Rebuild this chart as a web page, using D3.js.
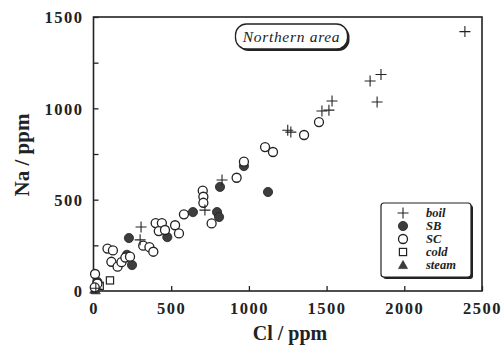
<!DOCTYPE html>
<html>
<head>
<meta charset="utf-8">
<script src="https://cdn.jsdelivr.net/npm/d3@7"></script>
<style>
  html, body { margin: 0; padding: 0; background: #fff; }
  svg { display: block; }
  .tick text { font-family: "Liberation Serif", "DejaVu Serif", serif; font-weight: bold; font-size: 16.5px; letter-spacing: 1.5px; fill: #222; }
</style>
</head>
<body>
<svg id="chart" width="504" height="352"></svg>
<script>
// Cl vs Na concentrations (ppm), grouped by water type
const boilCl = [2390, 1850, 1780, 1825, 1535, 1470, 1515, 1250, 1270, 827, 717, 306, 300, 15];
const boilNa = [1420, 1185, 1150, 1035, 1040, 985, 990, 880, 870, 608, 443, 350, 280, 15];

const sbCl = [228, 475, 248, 640, 795, 808, 814, 1123, 968, 215, 25];
const sbNa = [290, 295, 142, 432, 432, 405, 570, 542, 684, 198, 50];

const scCl = [90, 125, 115, 155, 180, 205, 235, 320, 360, 385, 400, 440, 420, 460,
              525, 550, 582, 703, 707, 707, 760, 921, 968, 1104, 1155, 1355, 1451, 10, 25, 8];
const scNa = [232, 222, 160, 133, 158, 183, 188, 248, 240, 215, 372, 372, 328, 334,
              360, 315, 420, 549, 516, 483, 370, 620, 708, 788, 761, 854, 925, 93, 40, 20];

const coldCl = [106, 40];
const coldNa = [58, 28];

const steamCl = [5, 15];
const steamNa = [8, 4];

const xTicks = [0, 500, 1000, 1500, 2000, 2500];
const yTicks = [0, 250, 500, 750, 1000, 1250, 1500];
const yLabelled = [0, 500, 1000, 1500];

const legendItems = [
  { key: "boil", label: "boil" },
  { key: "sb", label: "SB" },
  { key: "sc", label: "SC" },
  { key: "cold", label: "cold" },
  { key: "steam", label: "steam" }
];

const ink = "#222";
const fillDark = "#3d3d3d";
const serif = '"Liberation Serif", "DejaVu Serif", serif';

const svg = d3.select("#chart");

const x = d3.scaleLinear().domain([0, 2500]).range([93.5, 482]);
const y = d3.scaleLinear().domain([0, 1500]).range([291, 17]);

// axes with inward ticks
const xAxis = d3.axisBottom(x).tickValues(xTicks).tickSize(-5).tickPadding(11).tickFormat(d3.format("d"));
const yAxis = d3.axisLeft(y).tickValues(yTicks).tickSize(-5).tickPadding(10)
  .tickFormat(d => yLabelled.includes(d) ? d3.format("d")(d) : "");

const gx = svg.append("g").attr("transform", `translate(0,${y(0)})`).call(xAxis);
const gy = svg.append("g").attr("transform", `translate(${x(0)},0)`).call(yAxis);
[gx, gy].forEach(g => {
  g.select(".domain").remove();
  g.selectAll(".tick line").attr("stroke", ink).attr("stroke-width", 1.3);
});
gy.selectAll(".tick text").attr("dy", "0.35em");

// plot frame
svg.append("rect")
  .attr("x", x(0)).attr("y", y(1500))
  .attr("width", x(2500) - x(0)).attr("height", y(0) - y(1500))
  .attr("fill", "none").attr("stroke", ink).attr("stroke-width", 1.6);

// axis titles
svg.append("text")
  .attr("transform", `translate(29,155) rotate(-90)`)
  .attr("text-anchor", "middle")
  .attr("font-family", serif).attr("font-weight", "bold").attr("font-size", 21)
  .attr("fill", ink)
  .text("Na / ppm");

svg.append("text")
  .attr("x", 290).attr("y", 340)
  .attr("text-anchor", "middle")
  .attr("font-family", serif).attr("font-weight", "bold").attr("font-size", 20)
  .attr("fill", ink)
  .text("Cl / ppm");

// marker drawing helpers
function drawMarker(g, key, cx, cy) {
  if (key === "boil") {
    const s = 5.5;
    g.append("path")
      .attr("d", `M${cx - s},${cy}H${cx + s}M${cx},${cy - s}V${cy + s}`)
      .attr("stroke", ink).attr("stroke-width", 1.1).attr("fill", "none");
  } else if (key === "sb") {
    g.append("circle").attr("cx", cx).attr("cy", cy).attr("r", 4.6)
      .attr("fill", fillDark).attr("stroke", ink).attr("stroke-width", 0.8);
  } else if (key === "sc") {
    g.append("circle").attr("cx", cx).attr("cy", cy).attr("r", 4.5)
      .attr("fill", "#fff").attr("stroke", ink).attr("stroke-width", 1.3);
  } else if (key === "cold") {
    g.append("rect").attr("x", cx - 3.6).attr("y", cy - 3.6).attr("width", 7.2).attr("height", 7.2)
      .attr("fill", "#fff").attr("stroke", ink).attr("stroke-width", 1.2);
  } else if (key === "steam") {
    const s = 4.5;
    g.append("path")
      .attr("d", `M${cx},${cy - s}L${cx + s},${cy + s * 0.8}L${cx - s},${cy + s * 0.8}Z`)
      .attr("fill", fillDark).attr("stroke", ink).attr("stroke-width", 0.6);
  }
}

const pts = svg.append("g");
const series = [
  ["cold", coldCl, coldNa],
  ["steam", steamCl, steamNa],
  ["sb", sbCl, sbNa],
  ["sc", scCl, scNa],
  ["boil", boilCl, boilNa]
];
series.forEach(([key, xs, ys]) => {
  xs.forEach((v, i) => drawMarker(pts, key, x(v), y(ys[i])));
});

// title pill
const tg = svg.append("g");
tg.append("rect").attr("x", 237.5).attr("y", 26).attr("width", 112).attr("height", 25).attr("rx", 11)
  .attr("fill", ink);
tg.append("rect").attr("x", 235.5).attr("y", 24).attr("width", 112).attr("height", 25).attr("rx", 11)
  .attr("fill", "#fff").attr("stroke", ink).attr("stroke-width", 1.3);
tg.append("text").attr("x", 291.5).attr("y", 41.5).attr("text-anchor", "middle")
  .attr("font-family", serif).attr("font-style", "italic").attr("font-size", 15.5)
  .attr("letter-spacing", 0.7).attr("fill", ink)
  .text("Northern area");

// legend box
const lg = svg.append("g");
lg.append("rect").attr("x", 383).attr("y", 205).attr("width", 90).attr("height", 74).attr("rx", 3)
  .attr("fill", ink);
lg.append("rect").attr("x", 381).attr("y", 203).attr("width", 90).attr("height", 74).attr("rx", 3)
  .attr("fill", "#fff").attr("stroke", ink).attr("stroke-width", 1.2);
legendItems.forEach((it, i) => {
  const cy = 213 + i * 13;
  drawMarker(lg, it.key, 403, cy);
  lg.append("text").attr("x", 426).attr("y", cy + 4)
    .attr("font-family", serif).attr("font-style", "italic").attr("font-weight", "bold")
    .attr("font-size", 12.5).attr("fill", ink)
    .text(it.label);
});
</script>
</body>
</html>
